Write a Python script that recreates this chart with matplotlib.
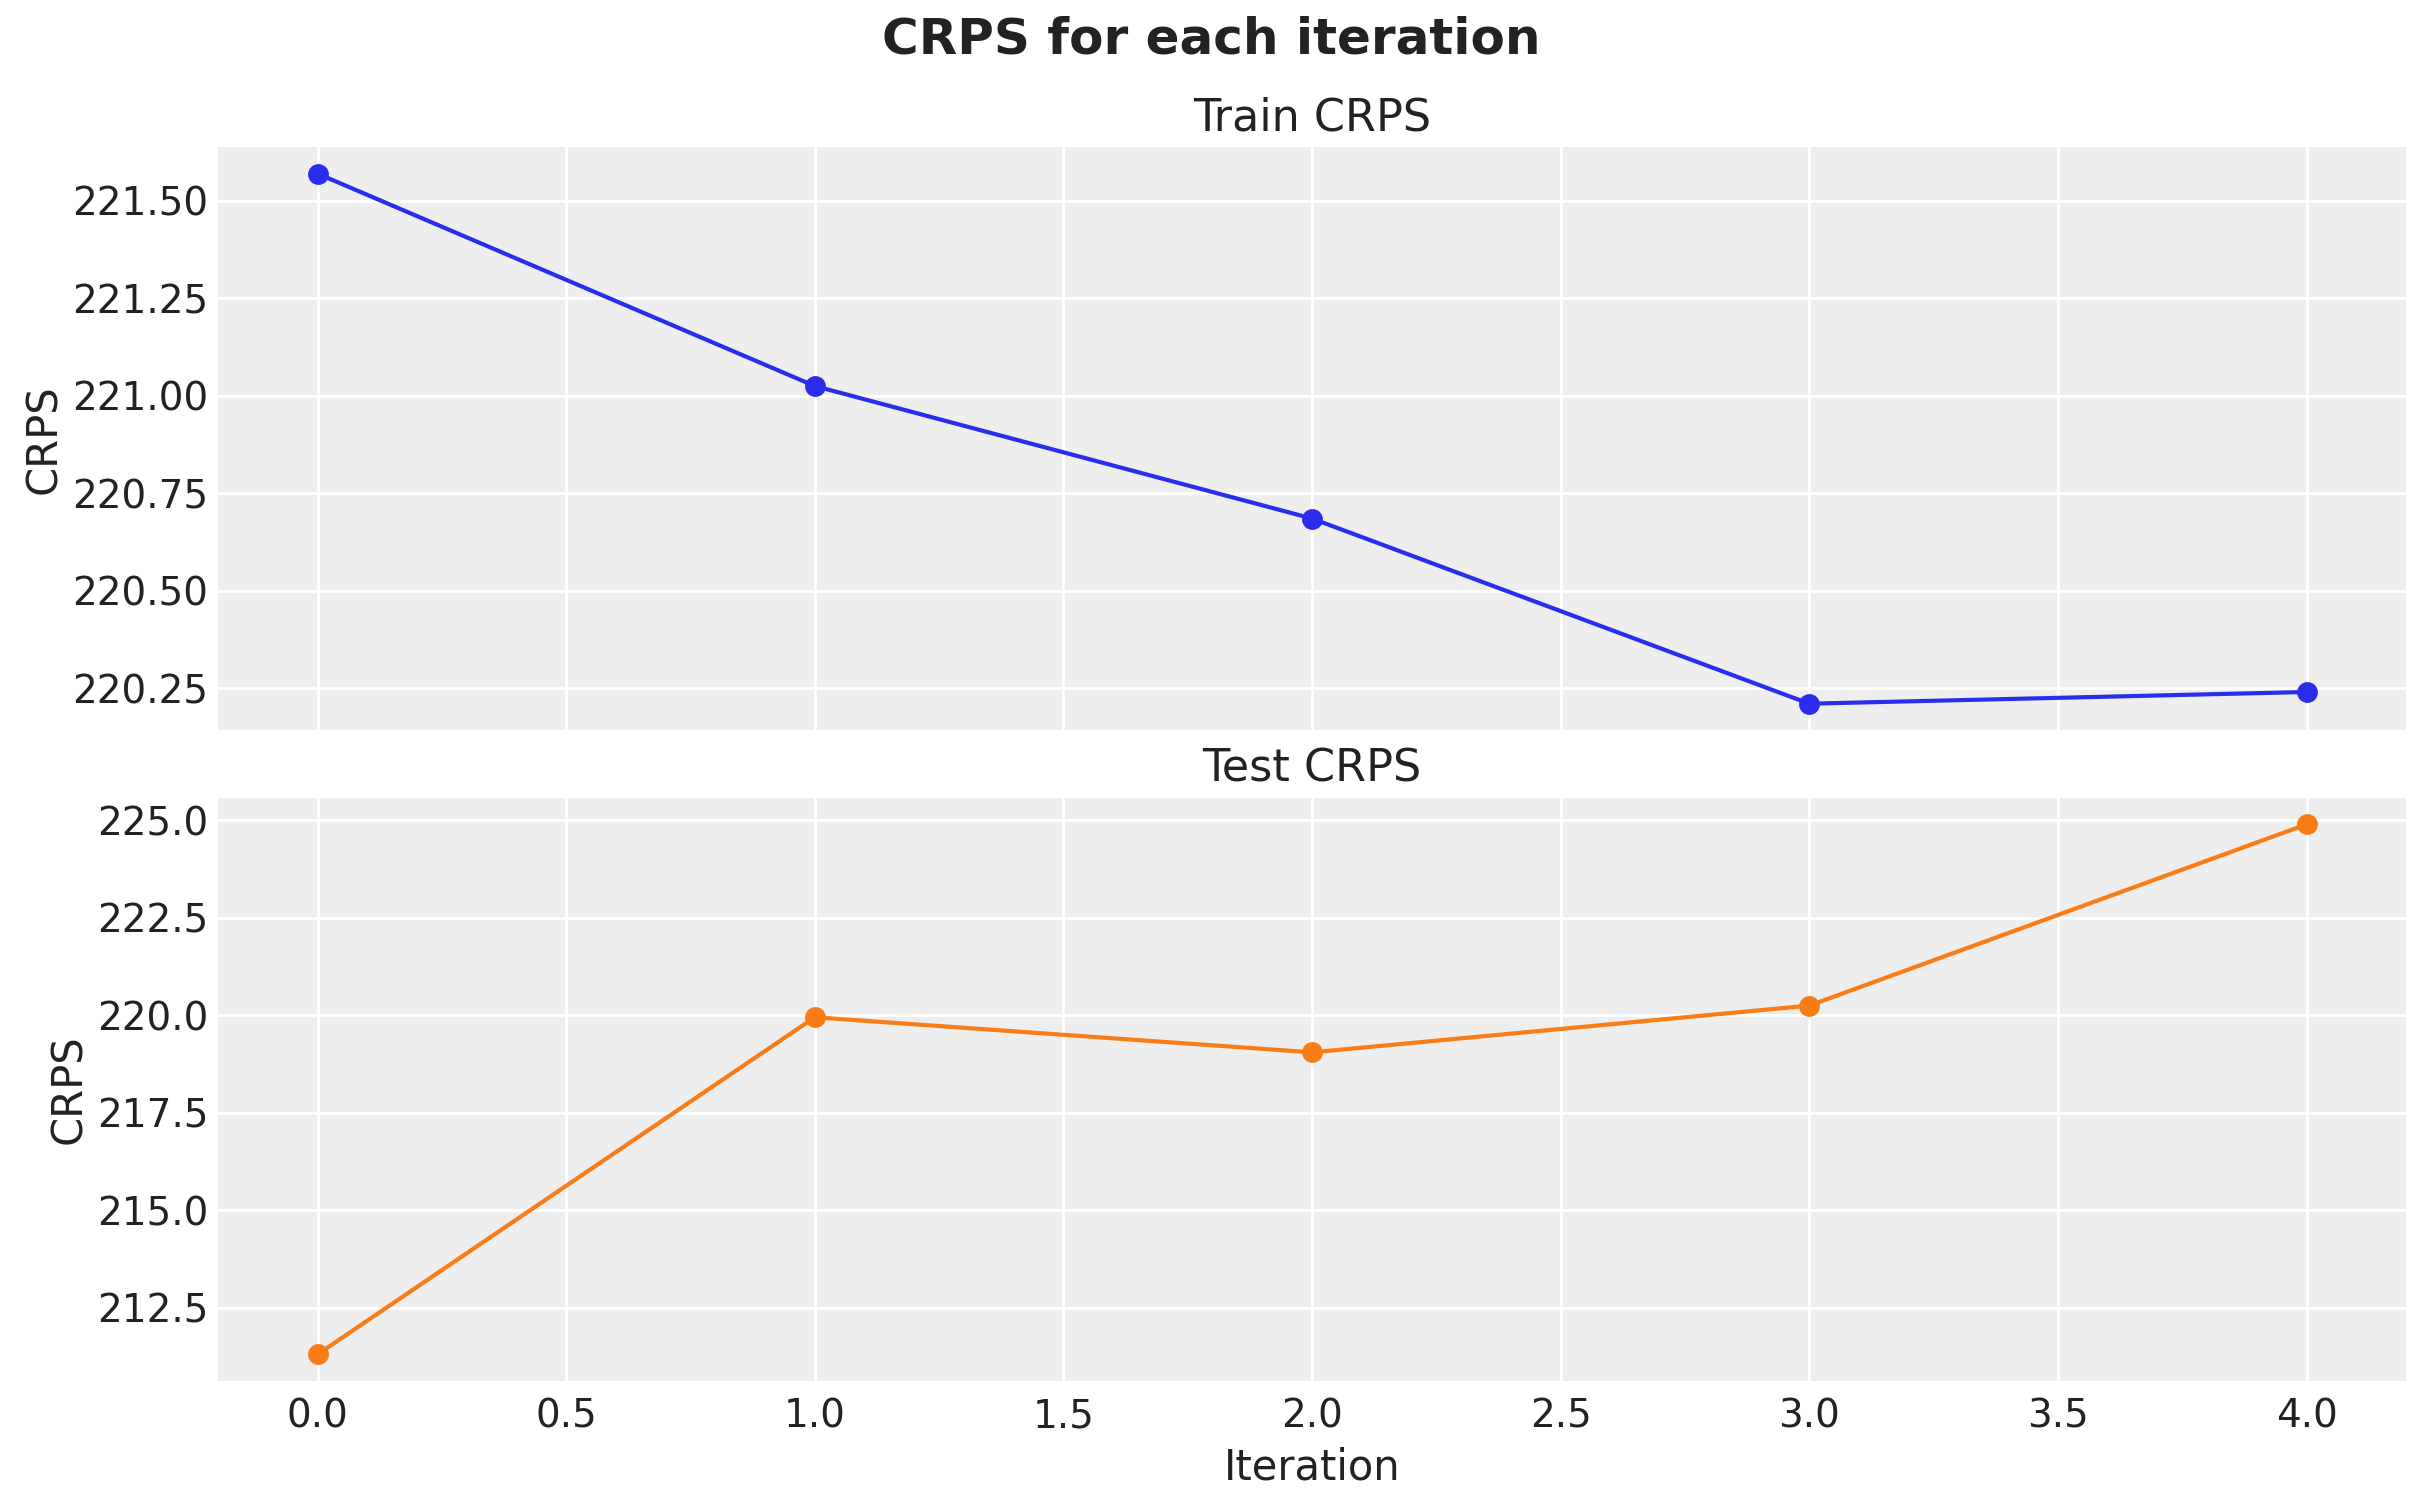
import matplotlib
matplotlib.use("Agg")
import matplotlib.pyplot as plt

iterations = [0, 1, 2, 3, 4]
train_crps = [221.57, 221.025, 220.685, 220.21, 220.24]
test_crps = [211.3, 219.95, 219.05, 220.25, 224.9]

plt.rcParams.update({
    "font.family": "DejaVu Sans",
    "axes.facecolor": "#eeeeee",
    "axes.edgecolor": "none",
    "axes.grid": True,
    "grid.color": "white",
    "grid.linewidth": 1.0,
    "axes.axisbelow": True,
    "xtick.major.size": 0,
    "ytick.major.size": 0,
    "xtick.major.pad": 6,
    "ytick.major.pad": 3.5,
    "text.color": "#222222",
    "axes.labelcolor": "#222222",
    "xtick.color": "#222222",
    "ytick.color": "#222222",
})

fig, axes = plt.subplots(2, 1, figsize=(2423 / 200, 1501 / 200), dpi=200, sharex=True)
fig.subplots_adjust(left=0.090, right=0.993, top=0.902, bottom=0.080, hspace=0.116)
for sp in ["top", "right", "left", "bottom"]:
    for ax in axes:
        ax.spines[sp].set_visible(False)

axes[0].plot(iterations, train_crps, marker="o", color="#2a2eec", lw=1.5, ms=6.5)
axes[0].set_title("Train CRPS", fontsize=16)
axes[0].set_ylabel("CRPS", fontsize=15, labelpad=2.5)

axes[1].plot(iterations, test_crps, marker="o", color="#fa7c17", lw=1.5, ms=6.5)
axes[1].set_title("Test CRPS", fontsize=16)
axes[1].set_ylabel("CRPS", fontsize=15, labelpad=2.5)
axes[1].set_xlabel("Iteration", fontsize=15)

for ax in axes:
    ax.tick_params(labelsize=14)

fig.suptitle("CRPS for each iteration", fontsize=18, fontweight="bold", y=0.99)
fig.savefig("out.png", dpi=200)
